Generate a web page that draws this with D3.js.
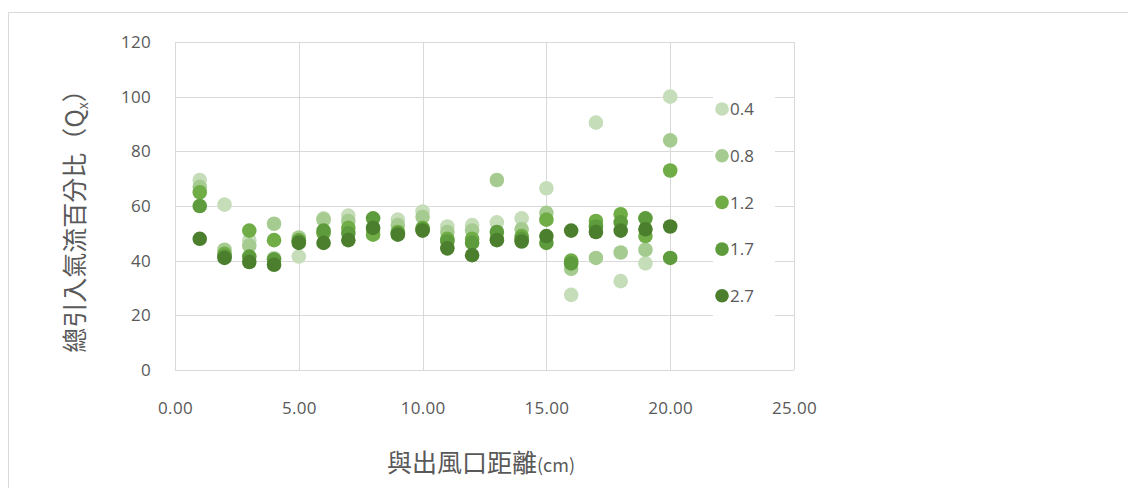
<!DOCTYPE html>
<html>
<head>
<meta charset="utf-8">
<script src="https://cdn.jsdelivr.net/npm/d3@7"></script>
<style>
  html, body { margin: 0; padding: 0; background: #fff; }
  svg { display: block; }
</style>
</head>
<body>
<svg id="chart" width="1128" height="488"></svg>
<script>
// Distance from the outlet (cm)
const distances = [1, 2, 3, 4, 5, 6, 7, 8, 9, 10, 11, 12, 13, 14, 15, 16, 17, 18, 19, 20];

// Series names (legend)
const seriesNames = ["0.4", "0.8", "1.2", "1.7", "2.7"];

// Percentage of entrained airflow for each series
const s04 = [69.5, 60.5, 47.5, 41.0, 41.5, 55.5, 56.5, 52.0, 55.0, 58.0, 52.5, 53.0, 54.0, 55.5, 66.5, 27.5, 90.5, 32.5, 39.0, 100.0];
const s08 = [67.0, 44.0, 45.5, 53.5, 48.5, 55.0, 54.5, 51.0, 53.0, 56.0, 50.5, 51.0, 69.5, 51.5, 57.5, 37.0, 41.0, 43.0, 44.0, 84.0];
const s12 = [65.0, 42.5, 51.0, 47.5, 47.5, 50.0, 52.0, 49.5, 50.5, 52.0, 48.0, 48.0, 48.0, 49.0, 55.0, 40.0, 54.5, 57.0, 49.0, 73.0];
const s17 = [60.0, 41.5, 41.5, 40.5, 47.0, 51.0, 50.0, 55.5, 50.0, 51.5, 47.0, 46.5, 50.5, 48.0, 46.5, 39.0, 52.5, 54.0, 55.5, 41.0];
const s27 = [48.0, 41.0, 39.5, 38.5, 46.5, 46.5, 47.5, 52.0, 49.5, 51.0, 44.5, 42.0, 47.5, 47.0, 49.0, 51.0, 50.5, 51.0, 51.5, 52.5];

const seriesValues = [s04, s08, s12, s17, s27];
const seriesColors = ["#c6ddb9", "#a6cb90", "#70ad47", "#5e9b3c", "#4b7f2e"];

// Axis ticks
const xTicks = [0, 5, 10, 15, 20, 25];
const yTicks = [0, 20, 40, 60, 80, 100, 120];

const svg = d3.select("#chart");
const plot = { left: 175, right: 794, top: 42, bottom: 370 };

const x = d3.scaleLinear().domain([0, 25]).range([plot.left, plot.right]);
const y = d3.scaleLinear().domain([0, 120]).range([plot.bottom, plot.top]);

const gridColor = "#d9d9d9";
const textColor = "#595959";
const numFont = "'Open Sans', 'Noto Sans', sans-serif";
const cjkFont = "'Noto Sans CJK TC', 'Noto Sans CJK SC', sans-serif";

// Chart frame
svg.append("path")
  .attr("d", "M8.5,488 V12.5 H1128")
  .attr("fill", "none")
  .attr("stroke", "#d9d9d9")
  .attr("stroke-width", 1);

// Horizontal gridlines
svg.append("g")
  .selectAll("line")
  .data(yTicks)
  .join("line")
  .attr("x1", plot.left).attr("x2", plot.right)
  .attr("y1", d => Math.round(y(d)) + 0.5).attr("y2", d => Math.round(y(d)) + 0.5)
  .attr("stroke", gridColor);

// Vertical gridlines
svg.append("g")
  .selectAll("line")
  .data(xTicks)
  .join("line")
  .attr("x1", d => Math.round(x(d)) + 0.5).attr("x2", d => Math.round(x(d)) + 0.5)
  .attr("y1", plot.top).attr("y2", plot.bottom)
  .attr("stroke", gridColor);

// Y axis labels
const yAxis = d3.axisLeft(y).tickValues(yTicks).tickSize(0).tickPadding(0);
svg.append("g")
  .attr("transform", `translate(${plot.left - 24},0)`)
  .call(yAxis)
  .call(g => g.select(".domain").remove())
  .call(g => g.selectAll("text")
    .attr("fill", textColor)
    .attr("font-family", numFont)
    .attr("font-size", 17)
    .attr("letter-spacing", 0.3));

// X axis labels
const xAxis = d3.axisBottom(x).tickValues(xTicks).tickSize(0).tickPadding(0)
  .tickFormat(d3.format(".2f"));
svg.append("g")
  .attr("transform", `translate(0,${plot.bottom + 32})`)
  .call(xAxis)
  .call(g => g.select(".domain").remove())
  .call(g => g.selectAll("text")
    .attr("fill", textColor)
    .attr("font-family", numFont)
    .attr("font-size", 17)
    .attr("letter-spacing", 0.3));

// Markers, drawn series by series so the heavier flows sit on top
const groups = svg.append("g")
  .selectAll("g")
  .data(seriesValues)
  .join("g")
  .attr("fill", (d, i) => seriesColors[i]);

groups.selectAll("circle")
  .data(vals => vals.map((v, j) => ({ d: distances[j], v })))
  .join("circle")
  .attr("cx", p => x(p.d))
  .attr("cy", p => y(p.v))
  .attr("r", 7.3);

// Legend (white box over the gridlines)
const legend = { x: 713, y: 88, w: 62, step: 46.7 };
svg.append("rect")
  .attr("x", legend.x).attr("y", legend.y)
  .attr("width", legend.w).attr("height", 230)
  .attr("fill", "#fff");

const items = svg.append("g")
  .selectAll("g")
  .data(seriesNames)
  .join("g")
  .attr("transform", (d, i) => `translate(${legend.x + 9},${109 + i * legend.step})`);

items.append("circle")
  .attr("r", 6.8)
  .attr("fill", (d, i) => seriesColors[i]);

items.append("text")
  .attr("x", 8)
  .attr("dy", "0.36em")
  .attr("fill", textColor)
  .attr("font-family", numFont)
  .attr("font-size", 17)
  .text(d => d);

// X axis title
svg.append("text")
  .attr("x", 481)
  .attr("y", 472)
  .attr("text-anchor", "middle")
  .attr("fill", textColor)
  .attr("font-family", cjkFont)
  .attr("font-size", 25)
  .text("與出風口距離")
  .append("tspan")
  .attr("font-size", 18)
  .text("(cm)");

// Y axis title
const yTitle = svg.append("text")
  .attr("transform", "translate(84,215) rotate(-90)")
  .attr("text-anchor", "middle")
  .attr("fill", textColor)
  .attr("font-family", cjkFont)
  .attr("font-size", 25);
yTitle.append("tspan").text("總引入氣流百分比（Q");
yTitle.append("tspan").attr("font-size", 14).attr("dy", 4).text("x");
yTitle.append("tspan").attr("dy", -4).text("）");
</script>
</body>
</html>
